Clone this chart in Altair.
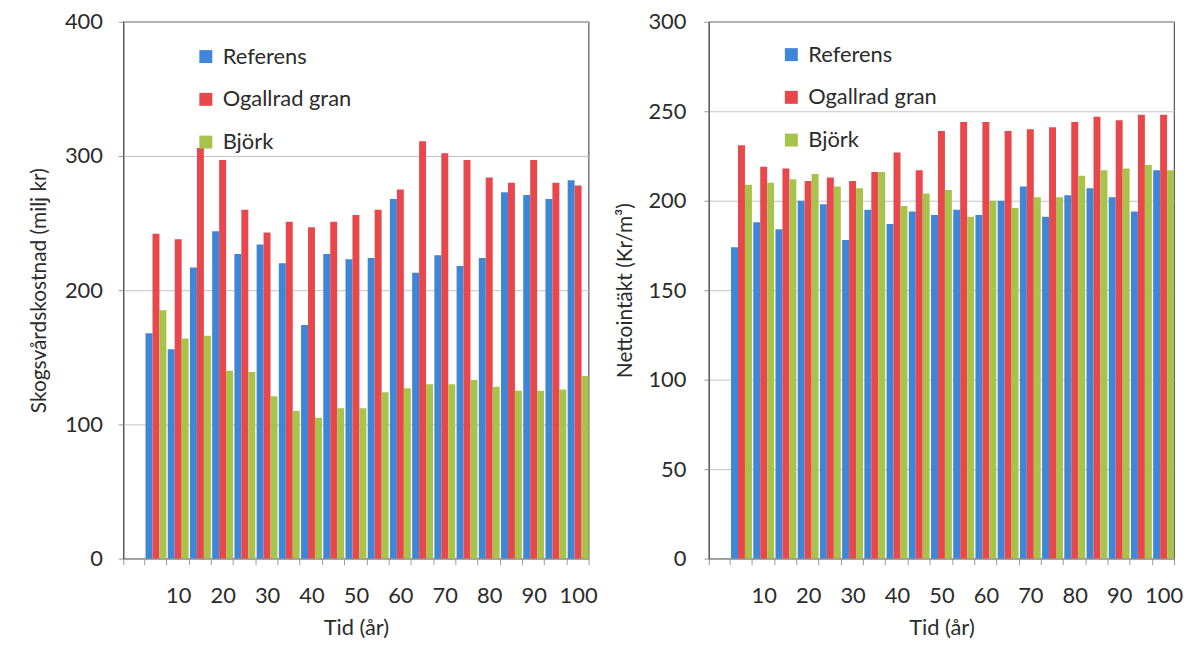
import altair as alt
import pandas as pd

years = [5, 10, 15, 20, 25, 30, 35, 40, 45, 50, 55, 60, 65, 70, 75, 80, 85, 90, 95, 100]
series = ["Referens", "Ogallrad gran", "Björk"]
colors = ["#3f86d8", "#e8484b", "#a8c34a"]

# Left panel: Skogsvårdskostnad (milj kr)
cost_ref = [168, 156, 217, 244, 227, 234, 220, 174, 227, 223, 224, 268, 213, 226, 218, 224, 273, 271, 268, 282]
cost_gran = [242, 238, 306, 297, 260, 243, 251, 247, 251, 256, 260, 275, 311, 302, 297, 284, 280, 297, 280, 278]
cost_bjork = [185, 164, 166, 140, 139, 121, 110, 105, 112, 112, 124, 127, 130, 130, 133, 128, 125, 125, 126, 136]

# Right panel: Nettointäkt (Kr/m3)
net_ref = [174, 188, 184, 200, 198, 178, 195, 187, 194, 192, 195, 192, 200, 208, 191, 203, 207, 202, 194, 217]
net_gran = [231, 219, 218, 211, 213, 211, 216, 227, 217, 239, 244, 244, 239, 240, 241, 244, 247, 245, 248, 248]
net_bjork = [209, 210, 212, 215, 208, 207, 216, 197, 204, 206, 191, 200, 196, 202, 202, 214, 217, 218, 220, 217]

x_domain = [0] + years
FONT = "Lato"
TXT = "#2b2b2b"


def make_df(a, b, c):
    rows = []
    for i, t in enumerate(years):
        for s, vals in zip(series, [a, b, c]):
            rows.append({"t": t, "serie": s, "v": vals[i]})
    return pd.DataFrame(rows)


def panel(df, ytitle, ymax, ystep, width, height, lx, ly, tpad, lpad):
    return alt.Chart(df).mark_bar().encode(
        x=alt.X(
            "t:O",
            scale=alt.Scale(domain=x_domain, paddingInner=0.06, paddingOuter=0),
            axis=alt.Axis(
                title="Tid (år)",
                labelAngle=0,
                labelExpr="(datum.value % 10 === 0 && datum.value > 0) ? datum.label : ''",
                tickBand="extent",
                tickSize=6,
                tickColor="#999999",
                domainColor="#999999",
                labelPadding=21,
                titlePadding=11,
                labelFontSize=22,
                titleFontSize=22,
                grid=False,
            ),
        ),
        xOffset=alt.XOffset("serie:N", sort=series, scale=alt.Scale(domain=series, paddingInner=0, paddingOuter=0)),
        y=alt.Y(
            "v:Q",
            scale=alt.Scale(domain=[0, ymax], nice=False),
            axis=alt.Axis(
                values=list(range(0, ymax + 1, ystep)),
                title=ytitle,
                tickSize=5,
                tickColor="#999999",
                domainColor="#555555",
                labelPadding=lpad,
                titlePadding=tpad,
                labelFontSize=22,
                titleFontSize=21,
                grid=True,
                gridColor="#c4c4c4",
            ),
        ),
        color=alt.Color(
            "serie:N",
            sort=series,
            scale=alt.Scale(domain=series, range=colors),
            legend=alt.Legend(
                orient="none",
                legendX=lx,
                legendY=ly,
                title=None,
                symbolType="square",
                symbolSize=170,
                symbolStrokeWidth=0,
                labelFontSize=22,
                labelOffset=6,
                rowPadding=21,
                padding=0,
                labelColor=TXT,
                labelFont=FONT,
            ),
        ),
    ).properties(width=width, height=height)


left = panel(make_df(cost_ref, cost_gran, cost_bjork), "Skogsvårdskostnad (milj kr)",
             400, 100, 468, 540, 72, 24, 15, 16)
right = panel(make_df(net_ref, net_gran, net_bjork), "Nettointäkt (Kr/m³)",
              300, 50, 468, 540, 72, 22, 13, 18)

chart = (
    alt.hconcat(left, right, spacing=15)
    .resolve_scale(x="independent", y="independent", color="independent", xOffset="independent")
    .properties(padding={"left": 20, "top": 0, "right": 0, "bottom": 0})
    .configure(font=FONT, background="white")
    .configure_axis(labelColor=TXT, titleColor=TXT, labelFont=FONT, titleFont=FONT, titleFontWeight="normal")
    .configure_view(stroke="#555555", strokeWidth=1.2)
)

chart.save("out.html", embed_options={"renderer": "svg", "actions": False})
